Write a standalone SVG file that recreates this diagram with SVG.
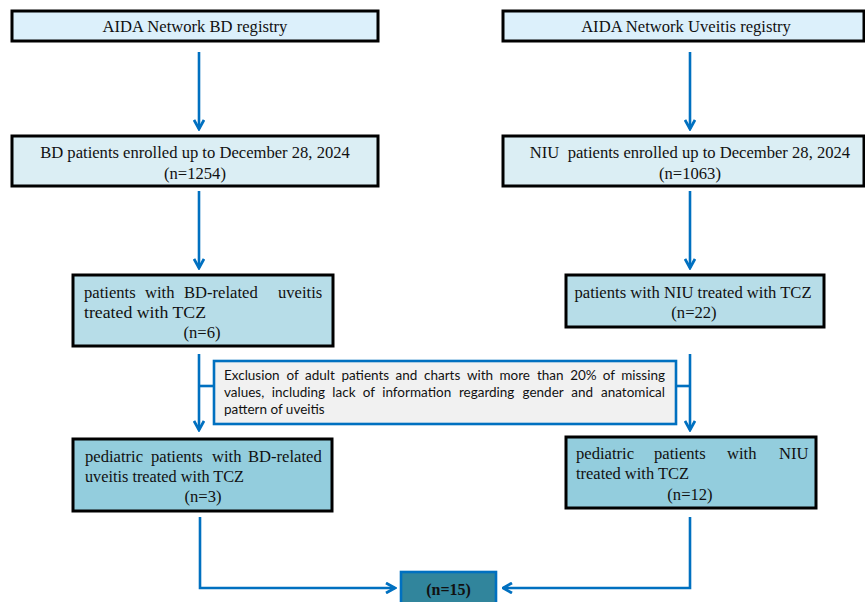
<svg xmlns="http://www.w3.org/2000/svg" width="865" height="602" viewBox="0 0 865 602">
<defs>
<style>
.box{stroke:#000;stroke-width:3}
.b1{fill:#dcf0fb}
.b2{fill:#dbeef4}
.b3{fill:#b7dde8}
.b4{fill:#93cddd}
.t{font-family:"Liberation Serif","Times New Roman",serif;font-size:16.6px;fill:#111;white-space:pre}
.tc{text-anchor:middle}
.ex{font-family:Lato,"Liberation Sans",sans-serif;font-size:13.5px;fill:#111}
.conn{stroke:#0070c0;stroke-width:2.6;fill:none}
</style>
<marker id="arr" viewBox="0 0 12 12" refX="10.5" refY="6" markerWidth="12" markerHeight="12" markerUnits="userSpaceOnUse" orient="auto">
<path d="M1.5,1 L10.5,6 L1.5,11" fill="none" stroke="#0070c0" stroke-width="2.8"/>
</marker>
</defs>
<rect width="865" height="602" fill="#fff"/>

<g id="connectors">
<line class="conn" x1="199" y1="52" x2="199" y2="129" marker-end="url(#arr)"/>
<line class="conn" x1="690" y1="52" x2="690" y2="129" marker-end="url(#arr)"/>
<line class="conn" x1="199" y1="191" x2="199" y2="268" marker-end="url(#arr)"/>
<line class="conn" x1="690" y1="191" x2="690" y2="268" marker-end="url(#arr)"/>
<line class="conn" x1="199" y1="354" x2="199" y2="430" marker-end="url(#arr)"/>
<line class="conn" x1="690" y1="354" x2="690" y2="430" marker-end="url(#arr)"/>
<line class="conn" x1="199" y1="386" x2="214" y2="386"/>
<line class="conn" x1="676" y1="386" x2="690" y2="386"/>
<polyline class="conn" points="200,517 200,588 395,588" marker-end="url(#arr)"/>
<polyline class="conn" points="690,517 690,588 503,588" marker-end="url(#arr)"/>
</g>

<g id="bd-registry">
<rect class="box b1" x="12" y="11" width="366" height="30"/>
<text class="t tc" x="195" y="32">AIDA Network BD registry</text>
</g>
<g id="uveitis-registry">
<rect class="box b1" x="503" y="11" width="361" height="30"/>
<text class="t tc" x="686" y="32">AIDA Network Uveitis registry</text>
</g>

<g id="bd-enrolled">
<rect class="box b2" x="12" y="136" width="366" height="50"/>
<text class="t tc" x="195" y="158">BD patients enrolled up to December 28, 2024</text>
<text class="t tc" x="195" y="179">(n=1254)</text>
</g>
<g id="niu-enrolled">
<rect class="box b2" x="503" y="136" width="361" height="50"/>
<text class="t tc" x="690" y="158">NIU  patients enrolled up to December 28, 2024</text>
<text class="t tc" x="690" y="179">(n=1063)</text>
</g>

<g id="bd-tcz">
<rect class="box b3" x="73" y="275" width="260" height="71"/>
<text class="t" y="298"><tspan x="84">patients</tspan><tspan x="145">with</tspan><tspan x="184">BD-related</tspan><tspan x="278">uveitis</tspan></text>
<text class="t" x="84" y="318" textLength="122" lengthAdjust="spacingAndGlyphs">treated with TCZ</text>
<text class="t tc" x="202" y="338">(n=6)</text>
</g>
<g id="niu-tcz">
<rect class="box b3" x="566" y="275" width="258" height="52"/>
<text class="t tc" x="693" y="298">patients with NIU treated with TCZ</text>
<text class="t tc" x="694" y="318">(n=22)</text>
</g>

<g id="exclusion">
<rect x="214" y="361" width="462" height="63" fill="#f1f1f1" stroke="#0070c0" stroke-width="2.6"/>
<text class="ex" y="380"><tspan x="224">Exclusion</tspan><tspan x="286.4">of</tspan><tspan x="305">adult</tspan><tspan x="341.4">patients</tspan><tspan x="395.6">and</tspan><tspan x="424">charts</tspan><tspan x="466.9">with</tspan><tspan x="499.4">more</tspan><tspan x="537">than</tspan><tspan x="570.2">20%</tspan><tspan x="602.8">of</tspan></text>
<text class="ex" x="665" y="380" text-anchor="end">missing</text>
<text class="ex" y="397"><tspan x="224">values,</tspan><tspan x="271.8">including</tspan><tspan x="332.3">lack</tspan><tspan x="362.8">of</tspan><tspan x="382.2">information</tspan><tspan x="458.9">regarding</tspan><tspan x="522.5">gender</tspan><tspan x="571.2">and</tspan></text>
<text class="ex" x="665" y="397" text-anchor="end">anatomical</text>
<text class="ex" x="224" y="414">pattern of uveitis</text>
</g>

<g id="bd-pediatric">
<rect class="box b4" x="73" y="439" width="259" height="72"/>
<text class="t" y="462"><tspan x="85">pediatric</tspan><tspan x="151">patients</tspan><tspan x="212">with</tspan><tspan x="248">BD-related</tspan></text>
<text class="t" x="85" y="482" textLength="159" lengthAdjust="spacingAndGlyphs">uveitis treated with TCZ</text>
<text class="t tc" x="203" y="502">(n=3)</text>
</g>
<g id="niu-pediatric">
<rect class="box b4" x="566" y="437" width="250" height="71"/>
<text class="t" y="459"><tspan x="576">pediatric</tspan><tspan x="654">patients</tspan><tspan x="727">with</tspan><tspan x="779">NIU</tspan></text>
<text class="t" x="576" y="479" textLength="113" lengthAdjust="spacingAndGlyphs">treated with TCZ</text>
<text class="t tc" x="690" y="500">(n=12)</text>
</g>

<g id="total">
<rect x="401" y="572" width="95" height="34" fill="#31859c" stroke="#0070c0" stroke-width="2.6"/>
<text x="448.5" y="595" text-anchor="middle" font-family="Liberation Serif, Times New Roman, serif" font-size="16" font-weight="bold" fill="#111">(n=15)</text>
</g>
</svg>
